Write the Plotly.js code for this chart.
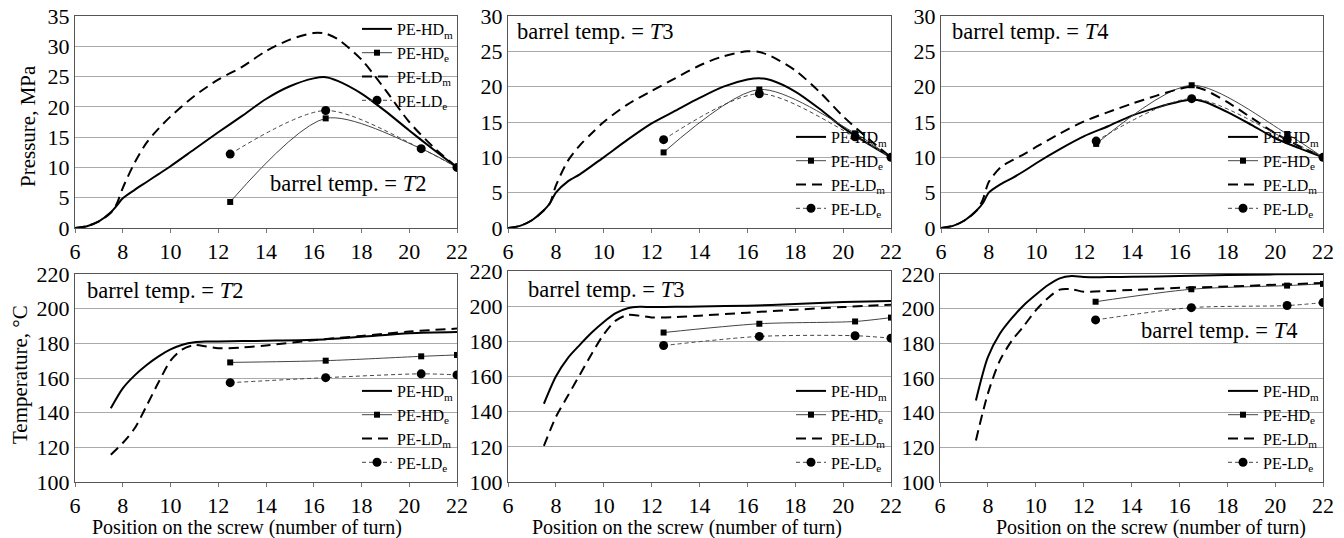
<!DOCTYPE html>
<html>
<head>
<meta charset="utf-8">
<script src="https://cdn.plot.ly/plotly-3.0.1.min.js"></script>
<style>html,body{margin:0;padding:0;background:#fff;}#chart{width:1344px;height:538px;}</style>
</head>
<body>
<div id="chart"></div>
<script>
// ---------- data ----------
const seriesNames = ["PE-HD<sub>m</sub>", "PE-HD<sub>e</sub>", "PE-LD<sub>m</sub>", "PE-LD<sub>e</sub>"];
const panelLabels = ["2", "3", "4"];
const xExp = [12.5, 16.5, 20.5, 22];

// Pressure (top row)
const xPres = [6, 6.5, 7, 7.5, 7.75, 8, 8.5, 9, 9.5, 10, 11, 12, 13, 14, 15, 16, 16.5, 17, 18, 19, 20, 21, 22];
const presHDm_T2 = [0, 0.3, 1.1, 2.6, 3.7, 4.9, 6.3, 7.6, 8.9, 10.2, 13.0, 15.8, 18.5, 21.3, 23.4, 24.7, 24.9, 24.3, 22.2, 19.3, 16.1, 13.0, 10];
const presLDm_T2 = [0, 0.3, 1.1, 2.5, 4.0, 6.6, 10.8, 14.1, 16.4, 18.4, 21.8, 24.5, 26.6, 29.2, 31.1, 32.2, 32.1, 31.2, 27.8, 22.8, 17.5, 13.4, 10];
const presHDe_T2 = [4.3, 18.1, 13.1, 10];
const presLDe_T2 = [12.2, 19.4, 13.1, 10];

const presHDm_T3 = [0, 0.3, 1.1, 2.5, 3.5, 5.0, 6.6, 7.6, 8.8, 10.0, 12.5, 14.8, 16.6, 18.4, 20.0, 21.0, 21.2, 20.9, 19.3, 16.9, 14.2, 12.0, 10];
const presLDm_T3 = [0, 0.3, 1.1, 2.5, 3.5, 6.0, 9.5, 11.7, 13.4, 15.0, 17.5, 19.4, 21.2, 23.0, 24.3, 25.0, 24.9, 24.3, 22.3, 19.3, 15.8, 12.8, 10];
const presHDe_T3 = [10.7, 19.6, 13.4, 10];
const presLDe_T3 = [12.5, 19.0, 12.9, 10];

const presHDm_T4 = [0, 0.3, 1.1, 2.5, 3.5, 5.0, 6.2, 7.1, 8.1, 9.2, 11.2, 13.0, 14.4, 15.9, 17.0, 17.9, 18.2, 17.9, 16.4, 14.6, 12.7, 11.3, 10];
const presLDm_T4 = [0, 0.3, 1.1, 2.5, 4.0, 6.5, 8.6, 9.6, 10.5, 11.5, 13.4, 15.1, 16.4, 17.6, 18.7, 19.7, 20.0, 19.6, 17.8, 15.6, 13.4, 11.6, 10];
const presHDe_T4 = [11.9, 20.2, 13.3, 10];
const presLDe_T4 = [12.3, 18.3, 12.5, 10];

// Temperature (bottom row)
const xTemp = [7.5, 8, 8.5, 9, 9.5, 10, 10.5, 11, 11.5, 12, 13, 14, 16, 18, 20, 22];
const tempHDm_T2 = [142.5, 154, 161.5, 167.5, 172.5, 176.5, 179.2, 180.6, 181, 181.1, 181.3, 181.5, 182, 183.8, 185.8, 186.5];
const tempLDm_T2 = [115.7, 122.5, 131, 144, 157.5, 170, 176.5, 179, 178.2, 177.2, 177.6, 178.8, 181.8, 184.3, 186.8, 188.5];
const tempHDe_T2 = [169, 170, 172.5, 173.3];
const tempLDe_T2 = [157.3, 160.2, 162.4, 161.8];

const tempHDm_T3 = [144.5, 160, 170.5, 178, 185, 191, 196, 198.8, 199.6, 199.5, 199.6, 199.8, 200.3, 201.2, 202.3, 203];
const tempLDm_T3 = [120.5, 137, 149, 161, 173, 184, 191.8, 195, 194.6, 193.6, 193.8, 194.6, 196.3, 198, 199.5, 200.8];
const tempHDe_T3 = [185, 190, 191.3, 193.5];
const tempLDe_T3 = [177.6, 182.8, 183.2, 181.8];

const tempHDm_T4 = [147, 172, 185.5, 194.5, 202, 208, 213.5, 217.5, 218.8, 218.3, 218.2, 218.4, 218.8, 219.4, 219.8, 220];
const tempLDm_T4 = [124, 151, 170, 181.5, 190, 199, 206, 211, 211.2, 209.8, 210.2, 210.8, 212, 212.8, 213.8, 214.8];
const tempHDe_T4 = [204, 211.2, 213.3, 214.3];
const tempLDe_T4 = [193.5, 200.6, 201.8, 203.5];

// ---------- build ----------
const FONT = "Liberation Serif";
const W = 1344, H = 538;
const panels = [
  {px:[75,457],  py:[16,228],  xm:xPres, hdm:presHDm_T2, ldm:presLDm_T2, hde:presHDe_T2, lde:presLDe_T2, yr:[0,35],   dt:5},
  {px:[508,891], py:[16,228],  xm:xPres, hdm:presHDm_T3, ldm:presLDm_T3, hde:presHDe_T3, lde:presLDe_T3, yr:[0,30],   dt:5},
  {px:[941,1323],py:[16,228],  xm:xPres, hdm:presHDm_T4, ldm:presLDm_T4, hde:presHDe_T4, lde:presLDe_T4, yr:[0,30],   dt:5},
  {px:[75,457],  py:[274,482], xm:xTemp, hdm:tempHDm_T2, ldm:tempLDm_T2, hde:tempHDe_T2, lde:tempLDe_T2, yr:[100,220],dt:20},
  {px:[508,891], py:[271,482], xm:xTemp, hdm:tempHDm_T3, ldm:tempLDm_T3, hde:tempHDe_T3, lde:tempLDe_T3, yr:[100,220],dt:20},
  {px:[940,1323],py:[274,482], xm:xTemp, hdm:tempHDm_T4, ldm:tempLDm_T4, hde:tempHDe_T4, lde:tempLDe_T4, yr:[100,220],dt:20}
];
const legendPos = [
  {x:459/W, y:1-12/H, ya:"top"},
  {x:893/W, y:1-226/H, ya:"bottom"},
  {x:1325/W, y:1-226/H, ya:"bottom"},
  {x:459/W, y:1-480/H, ya:"bottom"},
  {x:893/W, y:1-480/H, ya:"bottom"},
  {x:1325/W, y:1-480/H, ya:"bottom"}
];
const annPos = [
  {x:268, y:183}, {x:515, y:32}, {x:950, y:32},
  {x:85, y:290}, {x:526, y:289}, {x:1139, y:330}
];

const traces = [];
const layout = {
  width: W, height: H,
  margin: {l:0, r:0, t:0, b:0},
  paper_bgcolor: "#fff", plot_bgcolor: "#fff",
  font: {family: FONT, color: "#000", size: 20},
  annotations: [],
  showlegend: true
};

panels.forEach((p, i) => {
  const n = i + 1;
  const xa = "x" + (n === 1 ? "" : n), ya = "y" + (n === 1 ? "" : n);
  const lg = "legend" + (n === 1 ? "" : n);
  traces.push({x:p.xm, y:p.hdm, xaxis:xa, yaxis:ya, legend:lg, name:seriesNames[0], mode:"lines",
    line:{color:"#000", width:2, shape:"spline", smoothing:0.8}});
  traces.push({x:xExp, y:p.hde, xaxis:xa, yaxis:ya, legend:lg, name:seriesNames[1], mode:"lines+markers",
    line:{color:"#444", width:1, shape:"spline", smoothing:0.8}, marker:{symbol:"square", size:6, color:"#000"}});
  traces.push({x:p.xm, y:p.ldm, xaxis:xa, yaxis:ya, legend:lg, name:seriesNames[2], mode:"lines",
    line:{color:"#000", width:2, dash:"10px,6px", shape:"spline", smoothing:0.8}});
  traces.push({x:xExp, y:p.lde, xaxis:xa, yaxis:ya, legend:lg, name:seriesNames[3], mode:"lines+markers",
    line:{color:"#444", width:1, dash:"4px,3px", shape:"spline", smoothing:0.8}, marker:{symbol:"circle", size:9, color:"#000"}});

  const xk = "xaxis" + (n === 1 ? "" : n), yk = "yaxis" + (n === 1 ? "" : n);
  layout[xk] = {
    domain:[p.px[0]/W, p.px[1]/W], anchor: ya, range:[6,22], tick0:6, dtick:2,
    showgrid:false, zeroline:false, showline:true, mirror:true, linecolor:"#555", linewidth:1,
    ticks:"outside", ticklen:4, tickcolor:"#777", tickfont:{family:FONT, size:22, color:"#000"},
    fixedrange:true, automargin:false
  };
  layout[yk] = {
    domain:[1-p.py[1]/H, 1-p.py[0]/H], anchor: xa, range:p.yr, tick0:p.yr[0], dtick:p.dt,
    showgrid:true, gridcolor:"#aaa", gridwidth:1, zeroline:false, showline:true, mirror:true,
    linecolor:"#555", linewidth:1, ticks:"", tickfont:{family:FONT, size:22, color:"#000"},
    fixedrange:true, automargin:false
  };
  const lp = legendPos[i];
  layout[lg] = {
    x: lp.x, y: lp.y, xanchor:"right", yanchor: lp.ya, xref:"paper", yref:"paper",
    bgcolor:"rgba(0,0,0,0)", borderwidth:0, tracegroupgap:0, itemwidth:30,
    font:{family:FONT, size:16, color:"#000"}
  };
  const ap = annPos[i];
  layout.annotations.push({
    xref:"paper", yref:"paper", x: ap.x/W, y: 1-ap.y/H, xanchor:"left", yanchor:"middle",
    text:"barrel temp. = <i>T</i>" + panelLabels[i % 3], showarrow:false,
    font:{family:FONT, size:22.5, color:"#000"}
  });
});

// axis titles as annotations
layout.annotations.push({xref:"paper", yref:"paper", x:28/W, y:1-126/H, textangle:-90, showarrow:false,
  text:"Pressure, MPa", font:{family:FONT, size:21, color:"#000"}, xanchor:"center", yanchor:"middle"});
layout.annotations.push({xref:"paper", yref:"paper", x:20/W, y:1-375/H, textangle:-90, showarrow:false,
  text:"Temperature, °C", font:{family:FONT, size:21, color:"#000"}, xanchor:"center", yanchor:"middle"});
[247, 687, 1151].forEach(cx => {
  layout.annotations.push({xref:"paper", yref:"paper", x:cx/W, y:1-527/H, showarrow:false,
    text:"Position on the screw (number of turn)", font:{family:FONT, size:20, color:"#000"},
    xanchor:"center", yanchor:"middle"});
});

Plotly.newPlot("chart", traces, layout, {displayModeBar:false, staticPlot:true});
</script>
</body>
</html>
